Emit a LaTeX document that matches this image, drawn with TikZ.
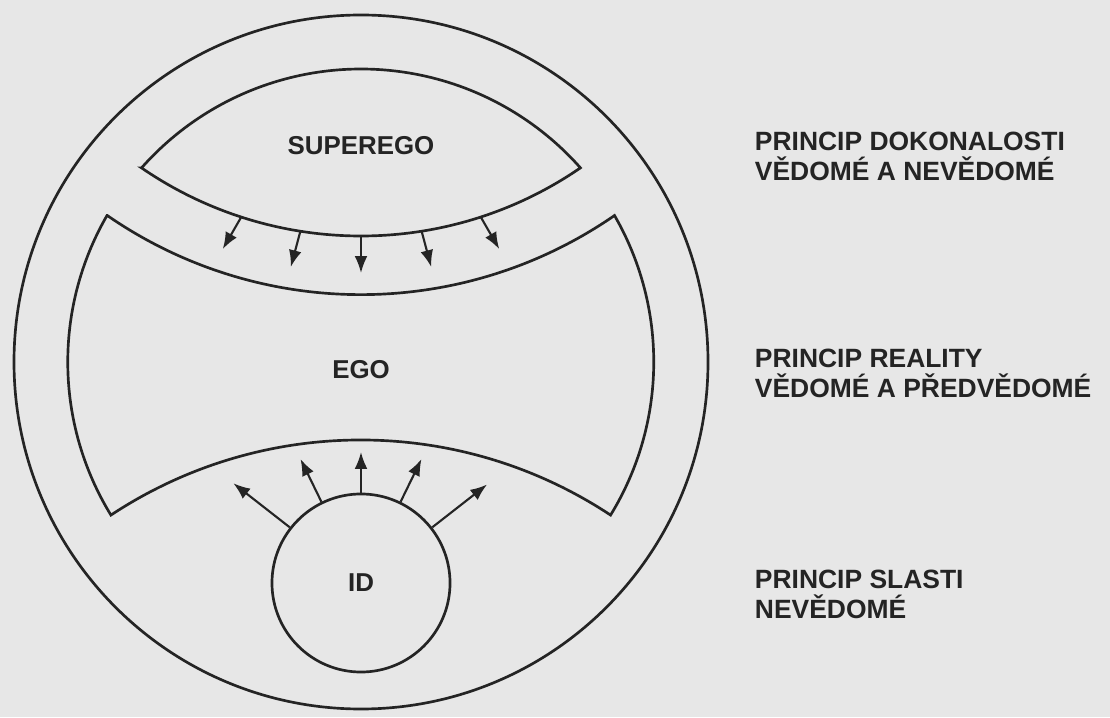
\documentclass[tikz,border=0pt]{standalone}
\usepackage{fontspec}
\setmainfont{Liberation Sans}
\usetikzlibrary{arrows.meta}
\definecolor{scan}{RGB}{231,231,231}
\definecolor{ink}{RGB}{36,36,36}

\begin{document}
\begin{tikzpicture}[x=0.025cm, y=0.025cm, every node/.style={font=\fontsize{18.4}{21.3}\selectfont\bfseries, text=ink},
	part/.style={draw=ink, line width=1.9pt},
	push/.style={draw=ink, line width=1.5pt, -{Latex[length=4.2mm, width=3.2mm]}},
	idball/.style={part, circle, minimum size=4.45cm, inner sep=0pt},
	lbl/.style={anchor=west, align=left, font=\fontsize{18.8}{21.3}\selectfont\bfseries}]
	\fill[scan] (0,0) rectangle (1110,717);
	\useasboundingbox (0,0) rectangle (1110,717);
	% psyche
	\draw[part] (361,355) circle (347);
	% superego
	\draw[part] (361,355) ++(138.5:293) arc[start angle=138.5, end angle=41.5, radius=293]
		arc[start angle=-55.5, end angle=-124.5, radius=387.5] -- cycle;
	% ego
	\draw[part] (361,355) ++(150:293) arc[start angle=-124.66, end angle=-55.34, radius=446]
		arc[start angle=30, end angle=-31.5, radius=293]
		arc[start angle=56.53, end angle=123.47, radius=453]
		arc[start angle=211.5, end angle=150, radius=293] -- cycle;
	\node (super) at (361,571) {SUPEREGO};
	\node (ego) at (361,347) {EGO};
	\node[idball] (id) at (361,134) {ID};
	\coordinate (supc) at (361,868.5);
	\foreach \b/\d in {-108/-120, -99/-105, -90/-90, -81/-75, -72/-60}
		\draw[push] ([shift={(\b:387.5)}]supc) -- ++(\d:37);
	\foreach \a/\l in {38/160, 64/138, 90/131, 116/138, 142/162}
		\draw[push] (id.\a) -- ([shift={(\a:\l)}]id.center);
	\node[lbl] (perf) at (750,561) {PRINCIP DOKONALOSTI\\VĚDOMÉ A NEVĚDOMÉ};
	\node[lbl] (real) at (750,344) {PRINCIP REALITY\\VĚDOMÉ A PŘEDVĚDOMÉ};
	\node[lbl] (pleas) at (750,123) {PRINCIP SLASTI\\NEVĚDOMÉ};
\end{tikzpicture}
\end{document}
